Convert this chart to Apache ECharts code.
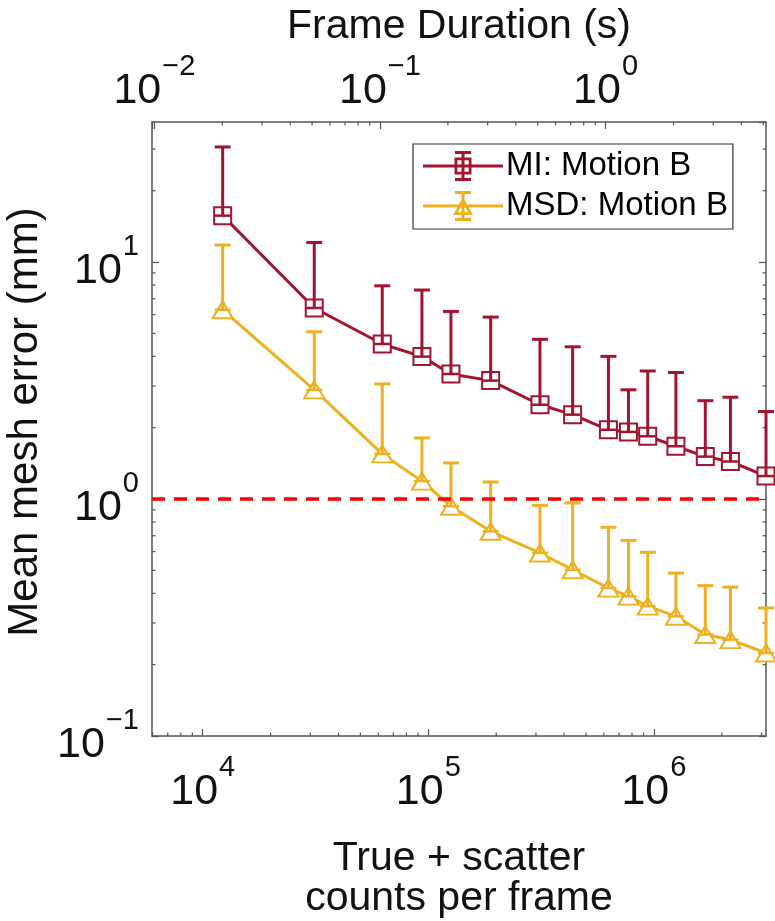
<!DOCTYPE html>
<html><head><meta charset="utf-8">
<script src="https://cdn.jsdelivr.net/npm/echarts@6/dist/echarts.min.js"></script>
<style>html,body{margin:0;padding:0;background:#fff}#c{width:775px;height:921px}</style>
</head><body><div id="c"></div>
<script>
// ---- data ----
const seriesNames = ['MI: Motion B', 'MSD: Motion B'];
const counts   = [12260, 31220, 62500, 93700, 126000, 189000, 312600, 436300, 628700, 771300, 939000, 1252000, 1690000, 2184000, 3140000];
const miMean   = [15.7, 6.40, 4.51, 3.99, 3.37, 3.16, 2.50, 2.27, 1.96, 1.92, 1.84, 1.67, 1.51, 1.44, 1.25];
const miUpper  = [30.6, 12.1, 7.94, 7.62, 6.19, 5.86, 4.72, 4.39, 4.00, 2.89, 3.47, 3.42, 2.60, 2.69, 2.34];
const msdMean  = [6.29, 2.89, 1.55, 1.19, 0.932, 0.731, 0.592, 0.503, 0.421, 0.389, 0.353, 0.320, 0.268, 0.255, 0.224];
const msdUpper = [11.8, 5.08, 3.06, 1.81, 1.42, 1.18, 0.94, 0.962, 0.760, 0.669, 0.596, 0.487, 0.431, 0.425, 0.347];
const threshold = 1;
// ---- axes / ticks ----
const countRange = [5960, 3140000];
const durRange = [0.00976, 5.14];
const yRange = [0.1, 39];
const countTicks = [1e4, 1e5, 1e6];
const countTickLabels = ['4', '5', '6'];          // exponents of 10
const durTicks = [0.01, 0.1, 1];
const durTickLabels = ['\u22122', '\u22121', '0'];
const yTicks = [0.1, 1, 10];
const yTickLabels = ['\u22121', '0', '1'];
const xTitleTop = 'Frame Duration (s)';
const xTitleBottom = 'True + scatter\ncounts per frame';
const yTitle = 'Mean mesh error (mm)';

const FONT = "'Liberation Sans', Arial, Helvetica, sans-serif";
const MI_COLOR = '#A2142F', MSD_COLOR = '#EDB120', AX = '#555555';

// legend glyphs (line + marker + error bar), drawn in an 80x36 box
const MI_ICON = 'path://M0,16.5h80v3h-80z M38.5,4h3v28h-3z M32,3h16v3h-16z M32,30h16v3h-16z M31.5,9.5h17v17h-17z M34.3,12.3v11.4h11.4v-11.4z';
const MSD_ICON = 'path://M0,16.5h80v3h-80z M38.5,4h3v28h-3z M32,3h16v3h-16z M32,30h16v3h-16z M40,9L50,27L30,27Z M40,14.6L34.9,24.3L45.1,24.3Z';

function minorTicks(lo, hi) {
  const out = [];
  for (let e = Math.floor(Math.log10(lo)); e <= Math.ceil(Math.log10(hi)); e++) {
    for (let k = 2; k <= 9; k++) { const v = k * Math.pow(10, e); if (v > lo && v < hi) out.push([v]); }
  }
  return out;
}
function makeFormatter(ticks, labels) {
  return function (v) {
    for (let i = 0; i < ticks.length; i++) {
      if (Math.abs(Math.log10(v) - Math.log10(ticks[i])) < 1e-6) return '{b|10}{e|' + labels[i] + '}';
    }
    return '';
  };
}
const richX = {
  b: { fontSize: 43, lineHeight: 44, padding: [8, 0, 0, 0], fontFamily: FONT, color: '#111' },
  e: { fontSize: 29, lineHeight: 28, padding: [0, 0, 40, 1], fontFamily: FONT, color: '#111' }
};
const richY = {
  b: { fontSize: 43, lineHeight: 44, padding: [18, 0, 0, 0], fontFamily: FONT, color: '#111' },
  e: { fontSize: 29, lineHeight: 28, padding: [0, 0, 30, 1], fontFamily: FONT, color: '#111' }
};
function axisCommon() {
  return {
    type: 'log', logBase: 10,
    axisLine: { show: true, onZero: false, lineStyle: { color: AX, width: 1.5 } },
    axisTick: { show: true, inside: true, length: 7, lineStyle: { color: AX, width: 1.2 } },
    splitLine: { show: false }, minorTick: { show: false }
  };
}
function errRender(color) {
  return function (params, api) {
    const x = api.value(0), m = api.value(1), u = api.value(2);
    const p = api.coord([x, m]), q = api.coord([x, u]);
    const hw = 8;
    return { type: 'group', children: [
      { type: 'line', shape: { x1: p[0], y1: p[1], x2: q[0], y2: q[1] }, style: { stroke: color, lineWidth: 3 } },
      { type: 'line', shape: { x1: q[0] - hw, y1: q[1], x2: q[0] + hw, y2: q[1] }, style: { stroke: color, lineWidth: 3 } },
      { type: 'line', shape: { x1: p[0] - hw, y1: p[1], x2: p[0] + hw, y2: p[1] }, style: { stroke: color, lineWidth: 2.5 } }
    ]};
  };
}
function tickRender(which) {
  return function (params, api) {
    const cs = params.coordSys; const L = 3.5;
    const st = { stroke: AX, lineWidth: 1.2 };
    if (which === 'bottom') { const x = api.coord([api.value(0), 1])[0]; const y = cs.y + cs.height; return { type: 'line', shape: { x1: x, y1: y, x2: x, y2: y - L }, style: st }; }
    if (which === 'top') { const x = api.coord([api.value(0), 1])[0]; const y = cs.y; return { type: 'line', shape: { x1: x, y1: y, x2: x, y2: y + L }, style: st }; }
    const y = api.coord([countRange[0] * 2, api.value(0)])[1];
    return { type: 'group', children: [
      { type: 'line', shape: { x1: cs.x, y1: y, x2: cs.x + L, y2: y }, style: st },
      { type: 'line', shape: { x1: cs.x + cs.width, y1: y, x2: cs.x + cs.width - L, y2: y }, style: st }
    ]};
  };
}

const chart = echarts.init(document.getElementById('c'), null, { renderer: 'canvas' });
chart.setOption({
  animation: false,
  backgroundColor: '#fff',
  textStyle: { fontFamily: FONT },
  grid: { left: 152, right: 9, top: 122, bottom: 185, containLabel: false, outerBoundsMode: 'none' },
  legend: {
    data: [{ name: seriesNames[0], icon: MI_ICON }, { name: seriesNames[1], icon: MSD_ICON }],
    orient: 'vertical', left: 413, top: 144,
    padding: [4, 5, 5, 10], itemGap: 4, itemWidth: 80, itemHeight: 36,
    borderColor: '#333', borderWidth: 1.2, backgroundColor: '#fff', borderRadius: 0,
    itemStyle: { borderWidth: 0 },
    textStyle: { fontSize: 33, fontFamily: FONT, color: '#000', lineHeight: 36, padding: [0, 0, 0, -2] },
    selectedMode: false
  },
  xAxis: [
    Object.assign(axisCommon(), {
      position: 'bottom', min: countRange[0], max: countRange[1],
      axisLabel: { margin: 30, formatter: makeFormatter(countTicks, countTickLabels), rich: richX, showMinLabel: false, showMaxLabel: false },
      name: xTitleBottom, nameLocation: 'middle', nameGap: 103,
      nameTextStyle: { fontSize: 41, fontFamily: FONT, color: '#111', lineHeight: 40 }
    }),
    Object.assign(axisCommon(), {
      position: 'top', min: durRange[0], max: durRange[1],
      axisLabel: { margin: 13, formatter: makeFormatter(durTicks, durTickLabels), rich: richX, showMinLabel: true, showMaxLabel: false },
      name: xTitleTop, nameLocation: 'middle', nameGap: 68,
      nameTextStyle: { fontSize: 41, fontFamily: FONT, color: '#111' }
    })
  ],
  yAxis: [
    Object.assign(axisCommon(), {
      position: 'left', min: yRange[0], max: yRange[1],
      axisLabel: { margin: 13, formatter: makeFormatter(yTicks, yTickLabels), rich: richY, showMinLabel: true, showMaxLabel: false },
      name: yTitle, nameLocation: 'middle', nameGap: 74,
      nameTextStyle: { fontSize: 42, fontFamily: FONT, color: '#111', padding: [0, 0, 0, 14] }
    }),
    Object.assign(axisCommon(), {
      position: 'right', min: yRange[0], max: yRange[1],
      axisLabel: { show: false }
    })
  ],
  series: [
    { type: 'line', name: '__thr', data: [], xAxisIndex: 0, yAxisIndex: 0, z: 1,
      markLine: { silent: true, symbol: ['none', 'none'], label: { show: false },
        lineStyle: { color: '#FF0000', type: [13, 9], width: 3.5 }, data: [{ yAxis: threshold }] } },
    { type: 'custom', xAxisIndex: 0, yAxisIndex: 0, data: minorTicks(countRange[0], countRange[1]), renderItem: tickRender('bottom'), silent: true, z: 1 },
    { type: 'custom', xAxisIndex: 1, yAxisIndex: 0, data: minorTicks(durRange[0], durRange[1]), renderItem: tickRender('top'), silent: true, z: 1 },
    { type: 'custom', xAxisIndex: 0, yAxisIndex: 0, data: minorTicks(yRange[0], yRange[1]), renderItem: tickRender('y'), silent: true, z: 1 },
    { type: 'line', name: seriesNames[0], xAxisIndex: 0, yAxisIndex: 0, z: 3,
      data: counts.map((c, i) => [c, miMean[i]]),
      symbol: 'emptyRect', symbolSize: 17, showSymbol: true, clip: false,
      lineStyle: { color: MI_COLOR, width: 3 }, itemStyle: { color: MI_COLOR, borderWidth: 3 } },
    { type: 'line', name: seriesNames[1], xAxisIndex: 0, yAxisIndex: 0, z: 3,
      data: counts.map((c, i) => [c, msdMean[i]]),
      symbol: 'emptyTriangle', symbolSize: [20, 17], showSymbol: true, clip: false,
      lineStyle: { color: MSD_COLOR, width: 3 }, itemStyle: { color: MSD_COLOR, borderWidth: 3 } },
    { type: 'custom', xAxisIndex: 0, yAxisIndex: 0, z: 4, silent: true, clip: false,
      data: counts.map((c, i) => [c, miMean[i], miUpper[i]]), renderItem: errRender(MI_COLOR) },
    { type: 'custom', xAxisIndex: 0, yAxisIndex: 0, z: 4, silent: true, clip: false,
      data: counts.map((c, i) => [c, msdMean[i], msdUpper[i]]), renderItem: errRender(MSD_COLOR) }
  ]
});
</script></body></html>
